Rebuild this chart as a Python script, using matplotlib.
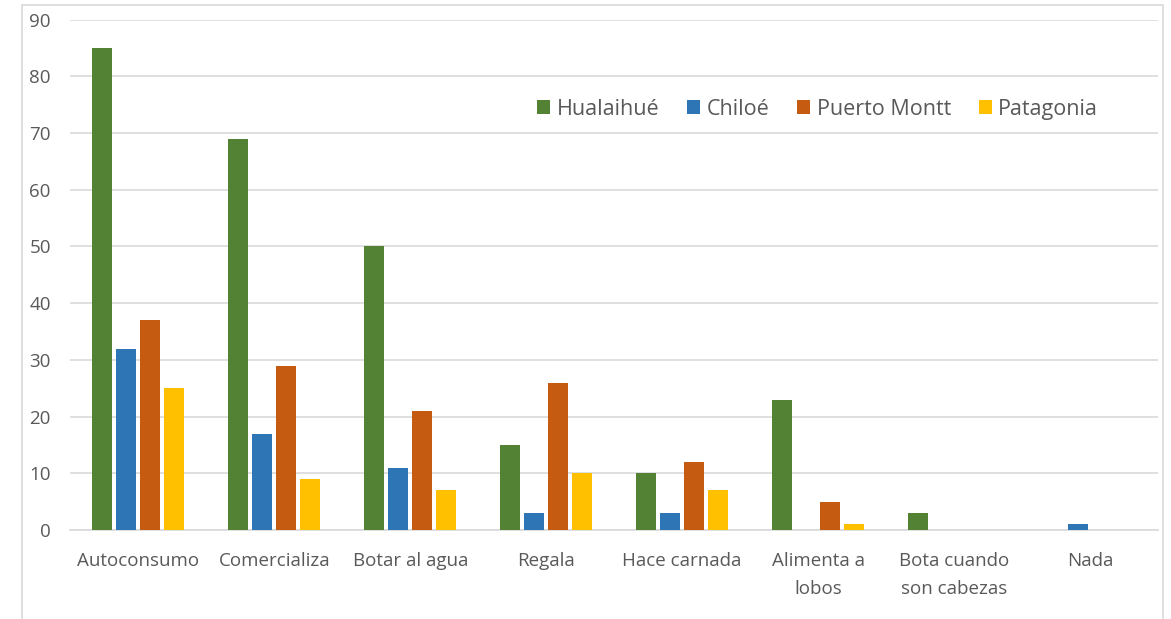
import matplotlib

matplotlib.use("Agg")
import matplotlib.pyplot as plt
import numpy as np
from matplotlib.patches import Rectangle

CATEGORIES = [
    "Autoconsumo",
    "Comercializa",
    "Botar al agua",
    "Regala",
    "Hace carnada",
    "Alimenta a\nlobos",
    "Bota cuando\nson cabezas",
    "Nada",
]
SERIES = ["Hualaihué", "Chiloé", "Puerto Montt", "Patagonia"]
HUALAIHUE = [85, 69, 50, 15, 10, 23, 3, 0]
CHILOE = [32, 17, 11, 3, 3, 0, 0, 1]
PUERTO_MONTT = [37, 29, 21, 26, 12, 5, 0, 0]
PATAGONIA = [25, 9, 7, 10, 7, 1, 0, 0]
COLORS = ["#548235", "#2E75B6", "#C55A11", "#FFC000"]
Y_TICKS = list(range(0, 100, 10))

TEXT_COLOR = "#595959"
GRID_COLOR = "#D9D9D9"

plt.rcParams["font.family"] = ["Open Sans", "DejaVu Sans"]

fig = plt.figure(figsize=(11.71, 6.19), dpi=100)
ax = fig.add_axes([0.060, 0.144, 0.929, 0.824])

# outer chart frame
fig.patches.append(Rectangle((22 / 1171, -0.01), (1163 - 22) / 1171, 1 - 5 / 619 + 0.01,
                             transform=fig.transFigure, fill=False,
                             edgecolor="#D9D9D9", linewidth=1.2))

values = [HUALAIHUE, CHILOE, PUERTO_MONTT, PATAGONIA]
x = np.arange(len(CATEGORIES))
width = 0.148
step = 0.176
for i, (name, vals, color) in enumerate(zip(SERIES, values, COLORS)):
    offs = (i - 1.5) * step
    ax.bar(x + offs, vals, width=width, color=color, label=name, zorder=3)

ax.set_xlim(-0.5, len(CATEGORIES) - 0.5)
ax.set_ylim(0, 90)
ax.set_yticks(Y_TICKS)
ax.set_xticks(x)
ax.set_xticklabels(CATEGORIES, linespacing=1.7)
ax.grid(axis="y", color=GRID_COLOR, linewidth=1.2, zorder=0)
for side in ["top", "right", "left"]:
    ax.spines[side].set_visible(False)
ax.spines["bottom"].set_color(GRID_COLOR)
ax.spines["bottom"].set_linewidth(1.2)
ax.tick_params(axis="both", length=0, colors=TEXT_COLOR, labelsize=13.5)
ax.tick_params(axis="x", pad=16)
ax.tick_params(axis="y", pad=14)

ax.legend(loc="center", bbox_to_anchor=(0.687, 0.825), ncol=4, frameon=False,
          fontsize=15.5, labelcolor=TEXT_COLOR, handlelength=0.6, handleheight=0.6,
          handletextpad=0.3, columnspacing=1.3)

fig.savefig("out.png", dpi=100)
